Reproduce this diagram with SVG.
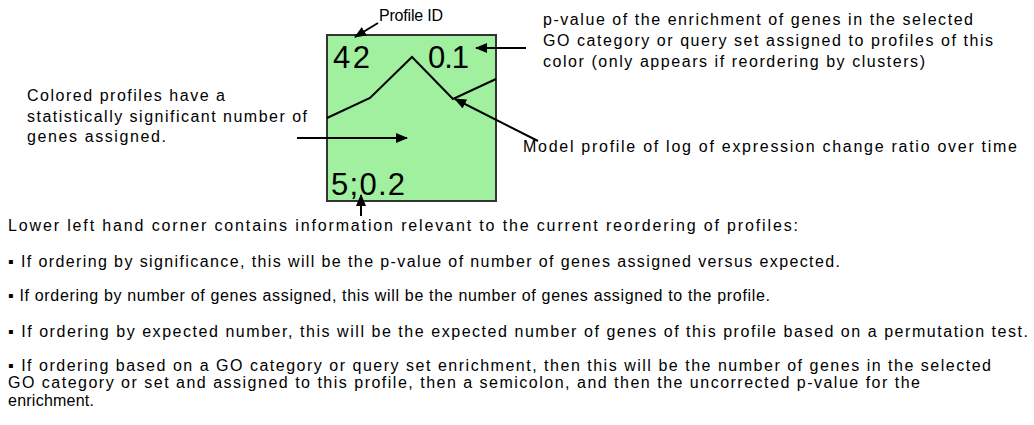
<svg xmlns="http://www.w3.org/2000/svg" width="1034" height="425" viewBox="0 0 1034 425">
<style>
text{font-family:"Liberation Sans",Arial,sans-serif;fill:#000}
.t{font-size:16px}
.big{font-size:31px}
.conn{stroke:#000;stroke-width:2;fill:none}
</style>
<defs>
<marker id="ah" viewBox="0 0 12 10" refX="11" refY="5" markerWidth="12" markerHeight="10" markerUnits="userSpaceOnUse" orient="auto">
<path d="M0,0 L12,5 L0,10 Z" fill="#000"/>
</marker>
</defs>
<rect width="1034" height="425" fill="#fff"/>
<g id="profile-box">
<rect x="327" y="35" width="169" height="166" fill="#a0f0a0" stroke="#333" stroke-width="2"/>
<polyline points="327,118 370,98 412,57 453,99 496,79" fill="none" stroke="#000" stroke-width="2"/>
<text class="big" x="333" y="68" textLength="37" lengthAdjust="spacing">42</text>
<text class="big" x="428" y="68" textLength="41" lengthAdjust="spacing">0.1</text>
<text class="big" x="331" y="195" textLength="74" lengthAdjust="spacing">5;0.2</text>
</g>
<g id="label-profile-id">
<text class="t" x="379" y="21" textLength="64" lengthAdjust="spacing">Profile ID</text>
</g>
<g id="label-pvalue">
<text class="t" x="543" y="25" textLength="430" lengthAdjust="spacing">p-value of the enrichment of genes in the selected</text>
<text class="t" x="543" y="46" textLength="450" lengthAdjust="spacing">GO category or query set assigned to profiles of this</text>
<text class="t" x="543" y="67" textLength="382" lengthAdjust="spacing">color (only appears if reordering by clusters)</text>
</g>
<g id="label-colored">
<text class="t" x="27" y="101" textLength="198" lengthAdjust="spacing">Colored profiles have a</text>
<text class="t" x="27" y="122" textLength="280" lengthAdjust="spacing">statistically significant number of</text>
<text class="t" x="27" y="142" textLength="139" lengthAdjust="spacing">genes assigned.</text>
</g>
<g id="label-model">
<text class="t" x="523" y="152" textLength="494" lengthAdjust="spacing">Model profile of log of expression change ratio over time</text>
</g>
<g id="label-lower">
<text class="t" x="8" y="231" textLength="790" lengthAdjust="spacing">Lower left hand corner contains information relevant to the current reordering of profiles:</text>
<text class="t" x="8" y="267" textLength="832" lengthAdjust="spacing">▪ If ordering by significance, this will be the p-value of number of genes assigned versus expected.</text>
<text class="t" x="8" y="301" textLength="762" lengthAdjust="spacing">▪ If ordering by number of genes assigned, this will be the number of genes assigned to the profile.</text>
<text class="t" x="8" y="337" textLength="1020" lengthAdjust="spacing">▪ If ordering by expected number, this will be the expected number of genes of this profile based on a permutation test.</text>
<text class="t" x="8" y="371" textLength="983" lengthAdjust="spacing">▪ If ordering based on a GO category or query set enrichment, then this will be the number of genes in the selected</text>
<text class="t" x="8" y="388" textLength="912" lengthAdjust="spacing">GO category or set and assigned to this profile, then a semicolon, and then the uncorrected p-value for the</text>
<text class="t" x="8" y="406" textLength="86" lengthAdjust="spacing">enrichment.</text>
</g>
<g id="connectors">
<line class="conn" x1="378" y1="23" x2="355" y2="37" marker-end="url(#ah)"/>
<line class="conn" x1="526" y1="48" x2="476" y2="48" marker-end="url(#ah)"/>
<line class="conn" x1="297" y1="138" x2="407" y2="138" marker-end="url(#ah)"/>
<line class="conn" x1="538" y1="141" x2="455" y2="99" marker-end="url(#ah)"/>
<line class="conn" x1="361" y1="216" x2="361" y2="195" marker-end="url(#ah)"/>
</g>
</svg>
